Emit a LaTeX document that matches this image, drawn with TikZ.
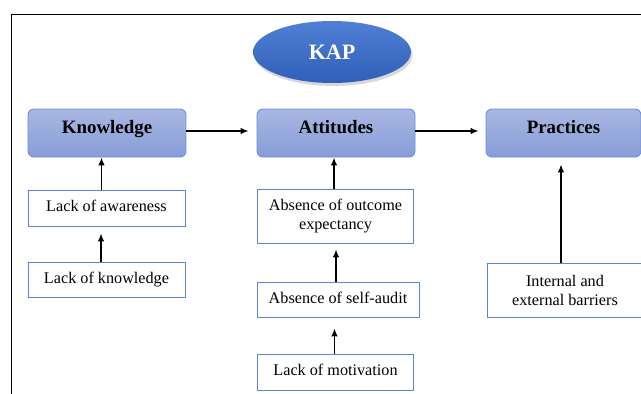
\documentclass[tikz,border=0pt]{standalone}
\usepackage{fontspec}
\setmainfont{Liberation Serif}
\usetikzlibrary{arrows.meta,shadows,shapes.geometric}
\definecolor{kaptop}{HTML}{4F80D6}
\definecolor{kapbot}{HTML}{2F5FB6}
\definecolor{headtop}{HTML}{A9B7E1}
\definecolor{headbot}{HTML}{879DD8}
\definecolor{headline}{HTML}{6D8FDA}
\definecolor{boxline}{HTML}{5A84D6}
\begin{document}
\begin{tikzpicture}[x=1pt, y=-1pt,
        head/.style={draw=headline, line width=0.9pt, rounded corners=6pt,
            top color=headtop, bottom color=headbot, minimum width=158pt,
            minimum height=48pt, inner sep=0pt, text height=12pt, text depth=12pt,
            font=\fontsize{18.9}{22}\selectfont\bfseries},
        item/.style={draw=boxline, line width=0.8pt, fill=white, inner sep=0pt,
            align=center, text height=11pt, text depth=4pt,
            font=\fontsize{16.2}{19}\selectfont},
        arr/.style={-{Latex[length=8pt,width=6.5pt]}, line width=1.4pt}]
    \useasboundingbox (0,0) rectangle (641,394);
    \draw[line width=0.9pt] (641,14) -- (11.5,14) -- (11.5,394);
    \node [ellipse, top color=kaptop, bottom color=kapbot, minimum width=158pt,
        minimum height=62pt, inner sep=0pt,
        drop shadow={shadow xshift=1.5pt, shadow yshift=-3pt, fill=black!30},
        text=white, font=\fontsize{22}{26}\selectfont\bfseries] (kap) at (332,52) {KAP};
    \node [head] (know) at (107,133) {Knowledge};
    \node [head] (att) at (336,133) {Attitudes};
    \node [head, minimum width=155pt] (prac) at (563.5,133) {Practices};
    \node [item, minimum width=157pt, minimum height=36pt] (aware) at (106.5,208) {Lack of awareness};
    \node [item, minimum width=157pt, minimum height=35pt] (lknow) at (106.5,280) {Lack of knowledge};
    \node [item, minimum width=156pt, minimum height=54pt, text height=, text depth=] (outc) at (335.5,216) {Absence of outcome\\expectancy};
    \node [item, minimum width=162pt, minimum height=35pt] (audit) at (338,299.5) {Absence of self-audit};
    \node [item, minimum width=156pt, minimum height=36pt] (motiv) at (335.5,372) {Lack of motivation};
    \node [item, minimum width=156pt, minimum height=54pt, text height=, text depth=] (barr) at (565,290) {Internal and\\external barriers};
    \draw[arr, shorten >=8pt] (know.east) ++(0,-2) coordinate (k1) -- (k1 -| att.west);
    \draw[arr, shorten >=7pt] (att.east) ++(0,-2) coordinate (a1) -- (a1 -| prac.west);
    \draw[arr] ([xshift=-5pt]aware.north) -- ([xshift=-5pt]aware.north |- know.south);
    \draw[arr, shorten >=7pt] ([xshift=-5.5pt]lknow.north) -- ([xshift=-5.5pt]lknow.north |- aware.south);
    \draw[arr] ([xshift=-1.5pt]outc.north) -- ([xshift=-1.5pt]outc.north |- att.south);
    \draw[arr, shorten >=6pt] ([xshift=-2pt]audit.north) -- ([xshift=-2pt]audit.north |- outc.south);
    \draw[arr, shorten >=11pt] ([xshift=-1pt]motiv.north) -- ([xshift=-1pt]motiv.north |- audit.south);
    \draw[arr, shorten >=7pt] ([xshift=-4pt]barr.north) -- ([xshift=-4pt]barr.north |- prac.south);
\end{tikzpicture}
\end{document}
